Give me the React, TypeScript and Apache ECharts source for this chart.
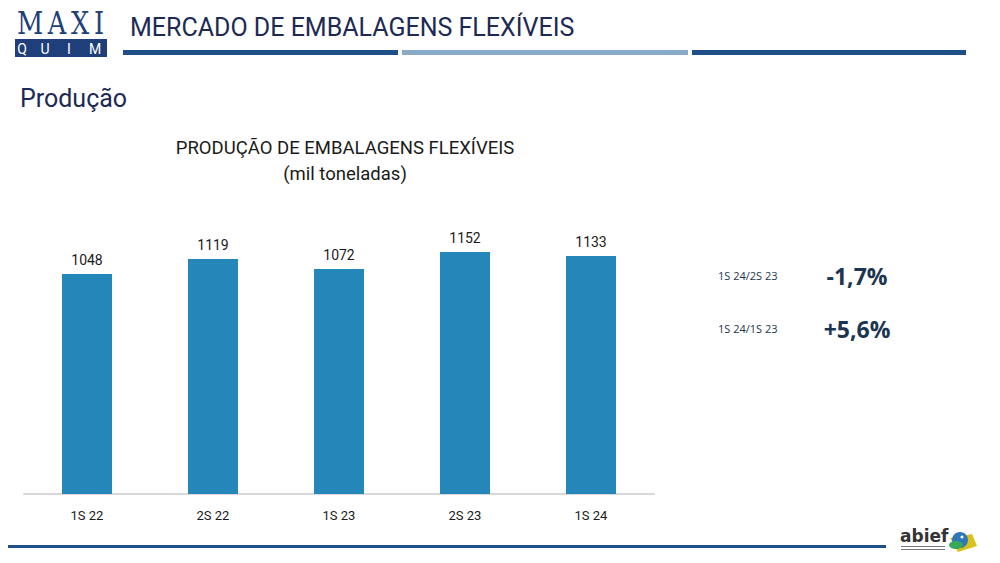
import React, { useEffect, useRef } from "react";
import * as echarts from "echarts";

const categories = ["1S 22", "2S 22", "1S 23", "2S 23", "1S 24"];
const production = [1048, 1119, 1072, 1152, 1133];
const comparisonLabels = ["1S 24/2S 23", "1S 24/1S 23"];
const comparisonValues = ["-1,7%", "+5,6%"];

const NAVY = "#1c2a55";
const LOGO_BLUE = "#1f3f7a";
const LINE_DARK = "#1e4f86";
const LINE_LIGHT = "#8aaac9";
const BAR = "#2586ba";

export default function App() {
  const ref = useRef<HTMLDivElement>(null);
  useEffect(() => {
    if (!ref.current) return;
    const chart = echarts.init(ref.current, null, { renderer: "svg" });
    const maxiLetters = [
      { t: "M", x: 30 },
      { t: "A", x: 57 },
      { t: "X", x: 80 },
      { t: "I", x: 99 },
    ];
    const quimLetters = [
      { t: "Q", x: 22 },
      { t: "U", x: 45 },
      { t: "I", x: 69 },
      { t: "M", x: 95 },
    ];
    const graphic: any[] = [];
    maxiLetters.forEach((l) =>
      graphic.push({
        type: "text",
        x: l.x,
        y: 22.5,
        scaleX: 0.8,
        style: {
          text: l.t,
          fill: LOGO_BLUE,
          font: "32px 'DejaVu Serif', serif",
          textAlign: "center",
          textVerticalAlign: "middle",
        },
      })
    );
    graphic.push({
      type: "rect",
      shape: { x: 15, y: 39, width: 92, height: 18 },
      style: { fill: LOGO_BLUE },
    });
    quimLetters.forEach((l) =>
      graphic.push({
        type: "text",
        x: l.x,
        y: 49,
        style: {
          text: l.t,
          fill: "#ffffff",
          font: "14px Roboto, sans-serif",
          textAlign: "center",
          textVerticalAlign: "middle",
        },
      })
    );
    graphic.push(
      {
        type: "text",
        x: 130,
        y: 27,
        style: {
          text: "MERCADO DE EMBALAGENS FLEXÍVEIS",
          fill: NAVY,
          font: "25px Roboto, sans-serif",
          textVerticalAlign: "middle",
        },
      },
      { type: "rect", shape: { x: 123, y: 50, width: 275, height: 5 }, style: { fill: LINE_DARK } },
      { type: "rect", shape: { x: 402, y: 50, width: 286, height: 5 }, style: { fill: LINE_LIGHT } },
      { type: "rect", shape: { x: 692, y: 50, width: 274, height: 5 }, style: { fill: LINE_DARK } },
      {
        type: "text",
        x: 20,
        y: 98,
        style: {
          text: "Produção",
          fill: NAVY,
          font: "25px Roboto, sans-serif",
          textVerticalAlign: "middle",
        },
      },
      { type: "rect", shape: { x: 8, y: 545, width: 878, height: 3 }, style: { fill: LINE_DARK } }
    );
    comparisonLabels.forEach((lab, i) => {
      const y = i === 0 ? 275 : 328;
      graphic.push(
        {
          type: "text",
          x: 718,
          y,
          style: {
            text: lab,
            fill: "#1c3550",
            font: "11px 'Open Sans', sans-serif",
            textVerticalAlign: "middle",
          },
        },
        {
          type: "text",
          x: 857,
          y: y + 1,
          style: {
            text: comparisonValues[i],
            fill: "#1c3550",
            font: "bold 23px 'Open Sans', sans-serif",
            textAlign: "center",
            textVerticalAlign: "middle",
          },
        }
      );
    });
    // abief logo
    graphic.push(
      {
        type: "text",
        x: 900,
        y: 536,
        style: {
          text: "abief",
          fill: "#333333",
          font: "bold 17px 'DejaVu Sans', sans-serif",
          textVerticalAlign: "middle",
        },
      },
      { type: "rect", shape: { x: 901, y: 546, width: 44, height: 1 }, style: { fill: "#777" } },
      { type: "rect", shape: { x: 901, y: 549, width: 44, height: 1 }, style: { fill: "#777" } },
      {
        type: "polygon",
        shape: { points: [[950, 538], [972, 534], [977, 546], [958, 552]] },
        style: { fill: "#d9c21c" },
      },
      { type: "circle", shape: { cx: 960, cy: 540, r: 8 }, style: { fill: "#2f78b7" } },
      { type: "ellipse", shape: { cx: 956, cy: 545, rx: 7, ry: 4 }, style: { fill: "#3aa85a" } },
      { type: "circle", shape: { cx: 962, cy: 537, r: 1.5 }, style: { fill: "#ffffff" } }
    );

    chart.setOption({
      animation: false,
      backgroundColor: "#ffffff",
      title: {
        text: "PRODUÇÃO DE EMBALAGENS FLEXÍVEIS\n(mil toneladas)",
        left: 340,
        top: 130,
        textAlign: "center",
        textStyle: {
          fontFamily: "Roboto, sans-serif",
          fontSize: 18.5,
          fontWeight: "normal",
          color: "#1a1a1a",
          lineHeight: 26,
        },
      },
      grid: { left: 24, right: 346, top: 200, bottom: 69 },
      xAxis: {
        type: "category",
        data: categories,
        axisLine: { lineStyle: { color: "#d9d9d9", width: 2 } },
        axisTick: { show: false },
        axisLabel: {
          color: "#1a1a1a",
          fontSize: 13,
          fontFamily: "Roboto, sans-serif",
          margin: 15,
        },
      },
      yAxis: {
        type: "value",
        min: 0,
        max: 1400,
        show: false,
        splitLine: { show: false },
      },
      series: [
        {
          type: "bar",
          data: production,
          barWidth: 50,
          itemStyle: { color: BAR },
          label: {
            show: true,
            position: "top",
            distance: 7,
            color: "#1a1a1a",
            fontSize: 14,
            fontFamily: "Roboto, sans-serif",
          },
        },
      ],
      graphic,
    });
    return () => chart.dispose();
  }, []);
  return (
    <div
      ref={ref}
      style={{ position: "fixed", left: 0, top: 0, width: 1000, height: 563 }}
    />
  );
}
